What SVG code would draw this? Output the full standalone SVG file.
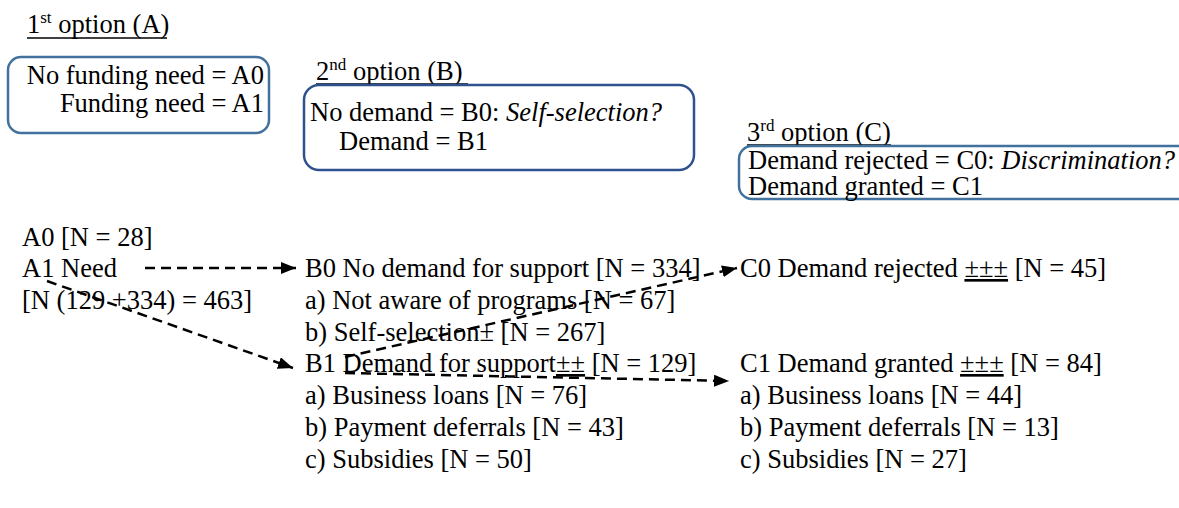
<svg xmlns="http://www.w3.org/2000/svg" width="1179" height="508" viewBox="0 0 1179 508">
<style>
text{font-family:'Liberation Serif','Times New Roman',serif;font-size:26.5px;fill:#000}
.it{font-style:italic}
.sup{font-size:17px}
.ul{stroke:#000;stroke-width:1.6}
.boxA{fill:none;stroke:#41719C;stroke-width:2.5}
.boxB{fill:none;stroke:#2F528F;stroke-width:2.5}
.con{fill:none;stroke:#000;stroke-width:2.5;stroke-dasharray:10 6}
</style>
<defs>
<marker id="ah" markerWidth="15" markerHeight="12" refX="15" refY="6" orient="auto" markerUnits="userSpaceOnUse" viewBox="0 0 15 12">
<path d="M0,0 L15,6 L0,12 Z" fill="#000"/>
</marker>
</defs>
<rect width="1179" height="508" fill="#fff"/>
<g id="title-A">
<text x="27" y="33">1<tspan class="sup" dy="-10">st</tspan><tspan dy="10"> option (A)</tspan></text>
<line class="ul" x1="27" y1="38" x2="167" y2="38"/>
</g>
<g id="box-A">
<rect class="boxA" x="8" y="57" width="261" height="76" rx="13"/>
<text x="264" y="84" text-anchor="end">No funding need = A0</text>
<text x="264" y="112" text-anchor="end">Funding need = A1</text>
</g>
<g id="title-B">
<text x="316" y="80">2<tspan class="sup" dy="-10">nd</tspan><tspan dy="10"> option (B)</tspan></text>
<line class="ul" x1="316" y1="84" x2="468" y2="84"/>
</g>
<g id="box-B">
<rect class="boxB" x="304" y="85" width="390" height="85" rx="15"/>
<text x="310" y="121">No demand = B0: <tspan class="it">Self-selection?</tspan></text>
<text x="339" y="150">Demand = B1</text>
</g>
<g id="title-C">
<text x="747" y="141">3<tspan class="sup" dy="-10">rd</tspan><tspan dy="10"> option (C)</tspan></text>
<line class="ul" x1="747" y1="145" x2="891" y2="145"/>
</g>
<g id="box-C">
<rect class="boxA" x="739" y="146" width="460" height="53" rx="13"/>
<text x="748" y="169">Demand rejected = C0: <tspan class="it">Discrimination?</tspan></text>
<text x="748" y="195">Demand granted = C1</text>
</g>
<g id="node-A0"><text x="22" y="246">A0 [N = 28]</text></g>
<g id="node-A1">
<text x="22" y="277">A1 Need</text>
<text x="22" y="309">[N (129 +334) = 463]</text>
</g>
<g id="node-B0">
<text x="305" y="277">B0 No demand for support [N = 334]</text>
<text x="305" y="309">a) Not aware of programs [N = 67]</text>
<text x="305" y="341">b) Self-selection± [N = 267]</text>
</g>
<g id="node-B1">
<text x="305" y="372">B1 Demand for support<tspan text-decoration="underline">±±</tspan> [N = 129]</text>
<text x="305" y="404">a) Business loans [N = 76]</text>
<text x="305" y="436">b) Payment deferrals [N = 43]</text>
<text x="305" y="468">c) Subsidies [N = 50]</text>
</g>
<g id="node-C0">
<text x="740" y="277">C0 Demand rejected <tspan text-decoration="underline">±±±</tspan> [N = 45]</text>
</g>
<g id="node-C1">
<text x="740" y="372">C1 Demand granted <tspan text-decoration="underline">±±±</tspan> [N = 84]</text>
<text x="740" y="404">a) Business loans [N = 44]</text>
<text x="740" y="436">b) Payment deferrals [N = 13]</text>
<text x="740" y="468">c) Subsidies [N = 27]</text>
</g>
<g id="connectors">
<line class="con" x1="145" y1="268" x2="296" y2="268" marker-end="url(#ah)"/>
<line class="con" x1="47" y1="281" x2="293" y2="368" marker-end="url(#ah)"/>
<line class="con" x1="345" y1="357" x2="737" y2="268" marker-end="url(#ah)"/>
<line class="con" x1="345" y1="373" x2="729" y2="381" marker-end="url(#ah)"/>
</g>
</svg>
